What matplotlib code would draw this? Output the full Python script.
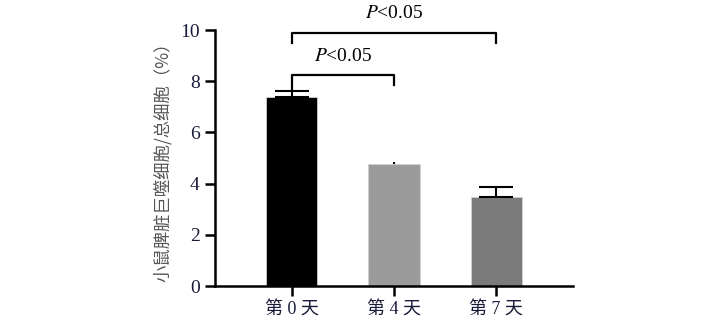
import matplotlib
matplotlib.use("Agg")
import matplotlib.pyplot as plt

plt.rcParams["mathtext.fontset"] = "stix"

categories = ["第 0 天", "第 4 天", "第 7 天"]
values = [7.4, 4.75, 3.48]
errors = [0.2, 0.08, 0.38]
colors = ["#000000", "#9b9b9b", "#7a7a7a"]
yticks = [0, 2, 4, 6, 8, 10]
capsizes = [12, 0, 12]

fig = plt.figure(figsize=(7.17, 3.28), dpi=100)
ax = fig.add_axes([0.300, 0.128, 0.499, 0.7805])

x = list(range(len(categories)))
ax.bar(x, values, width=0.5, color=colors, edgecolor="#d0d0d0", linewidth=0.6, zorder=2)
for xi, v, e, cs in zip(x, values, errors, capsizes):
    ax.errorbar([xi], [v], yerr=[[0], [e]], fmt="none", ecolor="black",
                elinewidth=1.5, capsize=cs, capthick=1.5, zorder=3)

ax.set_xlim(-0.75, 2.75)
ax.set_ylim(0, 10)
ax.set_yticks(yticks)
ax.set_xticks(x)
ax.set_xticklabels(categories, fontsize=13, family=["Liberation Serif", "Noto Sans CJK SC"], color="#1a1a3a")
ax.set_yticklabels([str(v) for v in yticks], fontsize=14, family="Liberation Serif", color="#1a1a3a")
for s in ["top", "right"]:
    ax.spines[s].set_visible(False)
for s in ["left", "bottom"]:
    ax.spines[s].set_linewidth(1.8)
ax.tick_params(axis="both", direction="out", length=7, width=1.8, pad=4)
ax.set_ylabel("小鼠脾脏巨噬细胞/总细胞（%）", fontsize=12.5, family=["Noto Sans CJK SC", "DejaVu Sans"],
              color="#555555", labelpad=6)

# significance brackets
def bracket(x1, x2, y, yl1, yl2, text, ty):
    ax.plot([x1, x1, x2, x2], [yl1, y, y, yl2], color="black", lw=1.6, clip_on=False, zorder=4)
    ax.text((x1 + x2) / 2, ty, text, ha="center", va="center", fontsize=14,
            family="Liberation Serif", clip_on=False)

bracket(0, 1, 8.25, 7.6, 7.85, "$\\mathit{P}$<0.05", 8.95)
bracket(0, 2, 9.88, 9.5, 9.5, "$\\mathit{P}$<0.05", 10.65)

fig.savefig("out.png", dpi=100)
